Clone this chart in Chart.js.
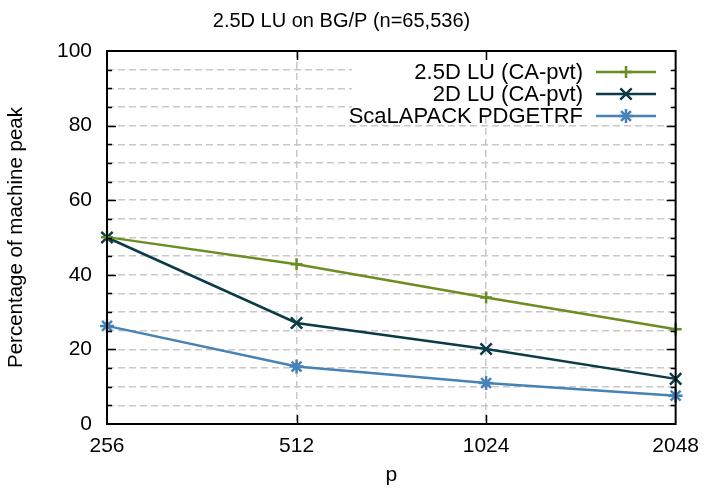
<!DOCTYPE html>
<html>
<head>
<meta charset="utf-8">
<script src="https://cdn.jsdelivr.net/npm/chart.js@4"></script>
<style>
  html, body { margin: 0; padding: 0; background: #fff; }
  #wrap { width: 709px; height: 492px; }
</style>
</head>
<body>
<div id="wrap"><canvas id="luChart" width="709" height="492"></canvas></div>
<script>
// chart data
const procs = ["256", "512", "1024", "2048"];
const lu25d = [50.1, 42.8, 33.9, 25.4];
const lu2d = [50.0, 27.1, 20.1, 12.1];
const scalapack = [26.3, 15.4, 11.0, 7.6];
const yTicks = [0, 20, 40, 60, 80, 100];

const FONT = "'Liberation Sans', Arial, sans-serif";
const colors = ["#6b8e23", "#0b3b47", "#4682b4"];
const names = ["2.5D LU (CA-pvt)", "2D LU (CA-pvt)", "ScaLAPACK PDGETRF"];
const markers = ["cross", "crossRot", "star"];
const markerSize = [6, 8, 7];

// white key box, inward ticks, full frame, legend
const framePlugin = {
    id: "frame",
    beforeDatasetsDraw(chart) {
        const c = chart.ctx;
        c.save();
        c.fillStyle = "#fff";
        c.fillRect(352, chart.chartArea.top + 2, 321, 64);
        c.restore();
    },
    afterDraw(chart) {
        const c = chart.ctx;
        const a = chart.chartArea;
        const ys = chart.scales.y;
        const xs = chart.scales.x;
        c.save();
        c.strokeStyle = "#000";
        c.lineWidth = 1.5;
        c.beginPath();
        for (let v = 5; v < 100; v += 5) {
            const py = Math.round(ys.getPixelForValue(v)) + 0.5;
            const len = yTicks.includes(v) ? 9 : 5;
            c.moveTo(a.left, py); c.lineTo(a.left + len, py);
            c.moveTo(a.right, py); c.lineTo(a.right - len, py);
        }
        for (let i = 1; i < procs.length - 1; i++) {
            const px = Math.round(xs.getPixelForValue(i)) + 0.5;
            c.moveTo(px, a.top); c.lineTo(px, a.top + 9);
            c.moveTo(px, a.bottom); c.lineTo(px, a.bottom - 9);
        }
        c.stroke();
        c.lineWidth = 2;
        c.strokeRect(a.left, a.top, a.right - a.left, a.bottom - a.top);

        // key
        c.font = "22px " + FONT;
        c.textAlign = "right";
        c.textBaseline = "middle";
        const rows = [72, 94, 116];
        chart.data.datasets.forEach((ds, i) => {
            c.fillStyle = "#000";
            c.fillText(ds.label, 583, rows[i] + 1);
            c.strokeStyle = ds.borderColor;
            c.lineWidth = 2.5;
            c.beginPath();
            c.moveTo(596, rows[i]); c.lineTo(656, rows[i]);
            c.stroke();
            Chart.helpers.drawPoint(c, {
                pointStyle: ds.pointStyle, radius: ds.pointRadius, rotation: 0, borderWidth: 2.5
            }, 626, rows[i]);
        });
        c.restore();
    }
};

function series(i, values) {
    return {
        label: names[i],
        data: values,
        borderColor: colors[i],
        backgroundColor: colors[i],
        borderWidth: 2.5,
        pointStyle: markers[i],
        pointRadius: markerSize[i],
        pointBorderWidth: 2.5,
        pointHoverRadius: markerSize[i],
        tension: 0,
        clip: false
    };
}

new Chart(document.getElementById("luChart"), {
    type: "line",
    data: {
        labels: procs,
        datasets: [series(0, lu25d), series(1, lu2d), series(2, scalapack)]
    },
    plugins: [framePlugin],
    options: {
        responsive: false,
        animation: false,
        events: [],
        layout: { padding: { top: 0, right: 26, left: 0, bottom: 0 } },
        plugins: {
            legend: { display: false },
            tooltip: { enabled: false },
            title: {
                display: true,
                text: "2.5D LU on BG/P (n=65,536)",
                color: "#000",
                font: { family: FONT, size: 20, weight: "normal" },
                padding: { top: 9, bottom: 18 }
            }
        },
        scales: {
            x: {
                offset: false,
                grid: {
                    color: ctx => (ctx.index === 0 || ctx.index === procs.length - 1) ? "rgba(0,0,0,0)" : "#c8c8c8",
                    lineWidth: 1.5,
                    drawTicks: false
                },
                border: { display: false, dash: [7, 4] },
                ticks: { color: "#000", font: { family: FONT, size: 21 }, padding: 10, maxRotation: 0 },
                title: {
                    display: true, text: "p", color: "#000",
                    font: { family: FONT, size: 21 }, padding: { top: 6 }
                },
                afterFit: s => { s.height = 68; }
            },
            y: {
                min: 0,
                max: 100,
                ticks: {
                    stepSize: 5,
                    autoSkip: false,
                    color: "#000",
                    font: { family: FONT, size: 21 },
                    padding: 15,
                    callback: v => yTicks.includes(v) ? v : ""
                },
                grid: {
                    color: ctx => (ctx.tick.value === 0 || ctx.tick.value === 100) ? "rgba(0,0,0,0)" : "#c8c8c8",
                    lineWidth: 1.5,
                    drawTicks: false
                },
                border: { display: false, dash: [7, 4] },
                title: {
                    display: true, text: "Percentage of machine peak", color: "#000",
                    font: { family: FONT, size: 20.5 }, padding: { bottom: 0 }
                },
                afterFit: s => { s.width = 107; }
            }
        }
    }
});
</script>
</body>
</html>
